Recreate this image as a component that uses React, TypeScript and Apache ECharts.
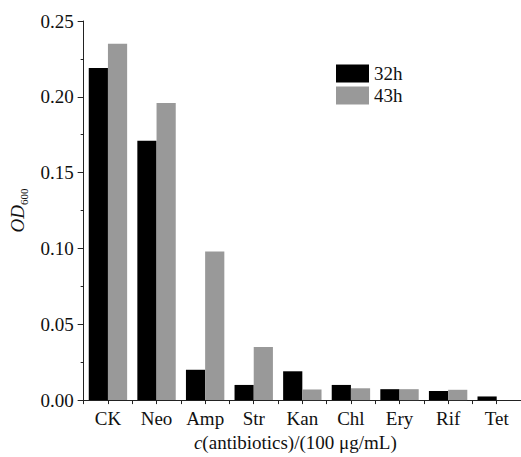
import React, { useEffect, useRef } from "react";
import * as echarts from "echarts";

const categories = ["CK", "Neo", "Amp", "Str", "Kan", "Chl", "Ery", "Rif", "Tet"];
const series32h = [0.219, 0.171, 0.020, 0.010, 0.019, 0.010, 0.0072, 0.006, 0.0024];
const series43h = [0.235, 0.196, 0.098, 0.035, 0.007, 0.0078, 0.0072, 0.0068, 0];
const yTicks = { min: 0, max: 0.25, interval: 0.05 };

const FONT = "'Liberation Serif', 'Times New Roman', serif";

export default function App() {
  const ref = useRef<HTMLDivElement>(null);
  useEffect(() => {
    if (!ref.current) return;
    const chart = echarts.init(ref.current, undefined, { renderer: "svg" });
    chart.setOption({
      animation: false,
      backgroundColor: "#ffffff",
      textStyle: { fontFamily: FONT },
      legend: {
        orient: "vertical",
        left: 331,
        top: 59,
        itemWidth: 33,
        itemHeight: 18,
        itemGap: 3,
        icon: "rect",
        textStyle: { fontFamily: FONT, fontSize: 19, color: "#111" },
        data: ["32h", "43h"],
      },
      grid: { left: 77, right: 0, top: 21, bottom: 52, containLabel: false },
      xAxis: [
        {
          type: "category",
          data: categories,
          position: "bottom",
          axisLine: { show: true, lineStyle: { color: "#222", width: 1 } },
          axisTick: { show: true, alignWithLabel: true, interval: 0, length: 4, lineStyle: { color: "#222" } },
          axisLabel: { interval: 0, hideOverlap: false, fontFamily: FONT, fontSize: 19, color: "#111", margin: 9 },
          name: "{i|c}{n|(antibiotics)/(100 μg/mL)}",
          nameLocation: "middle",
          nameGap: 28,
          nameTextStyle: {
            padding: [0, 14, 0, 0],
            rich: {
              i: { fontFamily: FONT, fontSize: 19, fontStyle: "italic", color: "#111" },
              n: { fontFamily: FONT, fontSize: 19, color: "#111" },
            },
          },
        },
        {
          type: "category",
          data: categories,
          position: "bottom",
          gridIndex: 0,
          axisLine: { show: false },
          axisTick: { show: true, alignWithLabel: false, interval: 0, length: 4, lineStyle: { color: "#222" } },
          axisLabel: { show: false },
        },
      ],
      yAxis: {
        type: "value",
        min: yTicks.min,
        max: yTicks.max,
        interval: yTicks.interval,
        axisLine: { show: true, lineStyle: { color: "#222", width: 1 } },
        axisTick: { show: true, length: 6, lineStyle: { color: "#222" } },
        minorTick: { show: true, splitNumber: 2, length: 3, lineStyle: { color: "#222" } },
        splitLine: { show: false },
        axisLabel: {
          fontFamily: FONT,
          fontSize: 19,
          color: "#111",
          margin: 10,
          formatter: (v: number) => v.toFixed(2),
        },
        name: "{i|OD}{s|600}",
        nameLocation: "middle",
        nameRotate: 90,
        nameGap: 52,
        nameTextStyle: {
          rich: {
            i: { fontFamily: FONT, fontSize: 19, fontStyle: "italic", color: "#111", lineHeight: 24, verticalAlign: "middle" },
            s: { fontFamily: FONT, fontSize: 11, color: "#111", lineHeight: 24, verticalAlign: "bottom" },
          },
        },
      },
      series: [
        {
          name: "32h",
          type: "bar",
          data: series32h,
          barGap: "0%",
          barCategoryGap: "21%",
          itemStyle: { color: "#000000" },
        },
        {
          name: "43h",
          type: "bar",
          data: series43h,
          barGap: "0%",
          barCategoryGap: "21%",
          itemStyle: { color: "#999999" },
        },
      ],
    });
    return () => chart.dispose();
  }, []);
  return (
    <div
      ref={ref}
      style={{ position: "fixed", left: 0, top: 0, width: 521, height: 457, background: "#fff" }}
    />
  );
}
